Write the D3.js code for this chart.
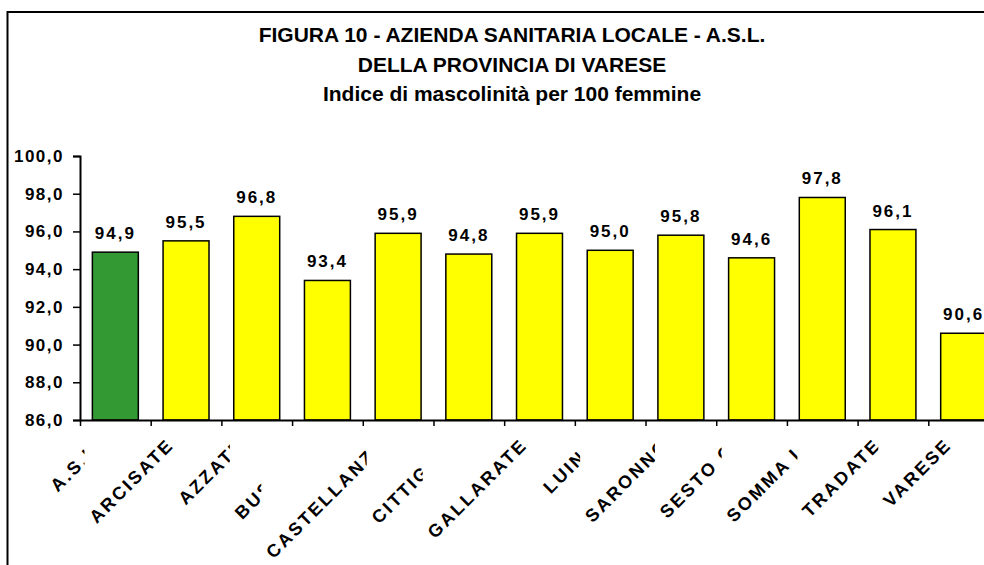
<!DOCTYPE html>
<html>
<head>
<meta charset="utf-8">
<script src="https://cdn.jsdelivr.net/npm/d3@7"></script>
<style>
  html, body { margin: 0; padding: 0; background: #fff; }
  svg { display: block; font-family: "Liberation Sans", Arial, sans-serif; }
</style>
</head>
<body>
<svg width="984" height="565"></svg>
<script>
// data
const districts = ["A.S.L.", "ARCISATE", "AZZATE", "BUSTO A.", "CASTELLANZA", "CITTIGLIO",
    "GALLARATE", "LUINO", "SARONNO", "SESTO C.", "SOMMA L.", "TRADATE", "VARESE"];
const indexValues = [94.9, 95.5, 96.8, 93.4, 95.9, 94.8, 95.9, 95.0, 95.8, 94.6, 97.8, 96.1, 90.6];
const yTicks = [86, 88, 90, 92, 94, 96, 98, 100];
const titleLines = ["FIGURA 10 - AZIENDA SANITARIA LOCALE - A.S.L.",
    "DELLA PROVINCIA DI VARESE",
    "Indice di mascolinità per 100 femmine"];

const svg = d3.select("svg");

const area = { left: 80, right: 999, top: 156, bottom: 420 };

// outer frame (cut by the picture on the right and bottom)
svg.append("rect")
    .attr("x", 7.5).attr("y", 12)
    .attr("width", 1100).attr("height", 700)
    .attr("fill", "none")
    .attr("stroke", "#000")
    .attr("stroke-width", 2);

// title
svg.append("g")
    .selectAll("text")
    .data(titleLines)
    .enter()
    .append("text")
    .attr("x", 512)
    .attr("y", (d, i) => 42 + i * 29.5)
    .attr("text-anchor", "middle")
    .style("font-size", "21px")
    .style("font-weight", "bold")
    .text(d => d);

let scaleX = d3.scaleBand()
    .domain(districts)
    .range([area.left, area.right])
    .paddingInner(0)
    .paddingOuter(0);

let scaleY = d3.scaleLinear()
    .domain([86, 100])
    .range([area.bottom, area.top]);

// tick marks sit on the band edges, as in the spreadsheet chart
let edgeScale = d3.scaleLinear()
    .domain([0, districts.length])
    .range([area.left, area.right]);

const fmt = v => v.toFixed(1).replace(".", ",");

// bars
const barW = scaleX.bandwidth() * 0.65;
svg.selectAll(".bar")
    .data(districts)
    .enter()
    .append("rect")
    .attr("class", "bar")
    .attr("x", d => scaleX(d) + (scaleX.bandwidth() - barW) / 2)
    .attr("y", (d, i) => scaleY(indexValues[i]))
    .attr("width", barW)
    .attr("height", (d, i) => area.bottom - scaleY(indexValues[i]))
    .style("fill", (d, i) => i === 0 ? "#339933" : "#ffff00")
    .style("stroke", "#000")
    .style("stroke-width", 1.5);

// value labels
svg.selectAll(".val")
    .data(districts)
    .enter()
    .append("text")
    .attr("class", "val")
    .attr("x", d => scaleX(d) + scaleX.bandwidth() / 2)
    .attr("y", (d, i) => scaleY(indexValues[i]) - 13)
    .attr("text-anchor", "middle")
    .style("font-size", "17px")
    .style("font-weight", "bold")
    .style("letter-spacing", "2px")
    .text((d, i) => fmt(indexValues[i]));

// y axis
let axisY = d3.axisLeft(scaleY)
    .tickValues(yTicks)
    .tickFormat(fmt)
    .tickSize(7)
    .tickPadding(9);
let gy = svg.append("g")
    .attr("transform", `translate(${area.left},0)`)
    .call(axisY);
gy.select(".domain").attr("stroke-width", 2);
gy.selectAll(".tick line").attr("stroke-width", 1.5);
gy.selectAll("text")
    .attr("font-family", null)
    .style("font-size", "17px")
    .style("font-weight", "bold")
    .style("letter-spacing", "1.5px")
    .attr("fill", "#000");

// x axis
let axisX = d3.axisBottom(edgeScale)
    .tickValues(d3.range(0, districts.length + 1))
    .tickFormat("")
    .tickSize(6)
    .tickSizeOuter(0);
let gx = svg.append("g")
    .attr("transform", `translate(0,${area.bottom})`)
    .call(axisX);
gx.select(".domain").attr("stroke-width", 2);
gx.selectAll(".tick line").attr("stroke-width", 1.5);

// rotated category labels; each one has a white box that hides
// the part of the previous label running under it
const labelLayer = svg.append("g");
const svgBox = svg.node().getBoundingClientRect();
districts.forEach((name, i) => {
    const g = labelLayer.append("g");
    const bg = g.append("rect").attr("fill", "#fff");
    const cx = scaleX(name) + scaleX.bandwidth() / 2;
    const t = g.append("text")
        .attr("transform", `translate(${cx - 11},${446}) rotate(-45)`)
        .attr("text-anchor", "end")
        .style("font-size", "18px")
        .style("font-weight", "bold")
        .style("letter-spacing", "2.5px")
        .text(name);
    const b = t.node().getBoundingClientRect();
    bg.attr("x", b.left - svgBox.left - 1)
        .attr("y", b.top - svgBox.top - 1)
        .attr("width", b.width + 2)
        .attr("height", b.height + 2);
});
</script>
</body>
</html>
